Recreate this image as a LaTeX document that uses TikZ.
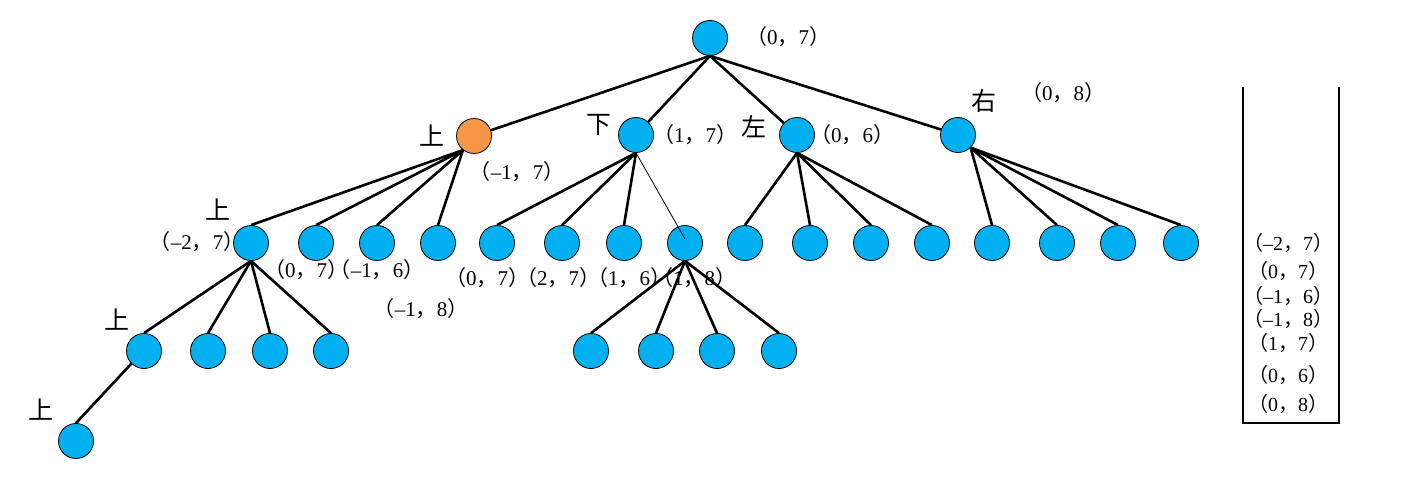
\documentclass[tikz,border=0pt]{standalone}
\usepackage{fontspec}
\setmainfont{Liberation Serif}
\newfontfamily\cjk{Noto Sans CJK SC}
\newcommand\cpair[2]{{\cjk （}#1{\cjk ，}#2{\cjk ）}}
\definecolor{nodeblue}{HTML}{00B0F0}
\definecolor{nodeorange}{HTML}{F79646}
\begin{document}
\begin{tikzpicture}[x=1pt,y=-1pt,
  st/.style={circle,draw=black,line width=0.8pt,fill=nodeblue,minimum size=35pt,inner sep=0pt},
  sto/.style={st,fill=nodeorange},
  edge/.style={line width=2.6pt},
  thinedge/.style={line width=0.8pt},
  lab/.style={font=\fontsize{21}{21}\selectfont,inner sep=0pt},
  slab/.style={font=\fontsize{20}{20}\selectfont,inner sep=0pt},
  dir/.style={font=\cjk\fontsize{25}{25}\selectfont,inner sep=0pt},
  stack/.style={line width=2.6pt}]
\useasboundingbox (0,0) rectangle (1413,502);
% level 0
\node[st] (r) at (710,38) {};
% level 1
\node[sto] (a) at (474,136) {};
\node[st] (b) at (636,135) {};
\node[st] (c) at (797,135) {};
\node[st] (d) at (958,135) {};
% level 2
\node[st] (a1) at (251,243) {};
\node[st] (a2) at (316,243) {};
\node[st] (a3) at (377,243) {};
\node[st] (a4) at (438,243) {};
\node[st] (b1) at (497,243) {};
\node[st] (b2) at (562,243) {};
\node[st] (b3) at (624,243) {};
\node[st] (b4) at (685,243) {};
\node[st] (c1) at (745,243) {};
\node[st] (c2) at (810,243) {};
\node[st] (c3) at (871,243) {};
\node[st] (c4) at (932,243) {};
\node[st] (d1) at (992,243) {};
\node[st] (d2) at (1057,243) {};
\node[st] (d3) at (1118,243) {};
\node[st] (d4) at (1181,243) {};
% level 3
\node[st] (e1) at (144,351) {};
\node[st] (e2) at (208,351) {};
\node[st] (e3) at (270,351) {};
\node[st] (e4) at (331,351) {};
\node[st] (f1) at (591,351) {};
\node[st] (f2) at (656,351) {};
\node[st] (f3) at (717,351) {};
\node[st] (f4) at (779,351) {};
% level 4
\node[st] (g1) at (76,441) {};
% edges
\foreach \t in {a,b,c,d} \draw[edge] (r.south) -- (\t);
\foreach \t in {a1,a2,a3,a4} \draw[edge] (a.-128) -- (\t.north);
\foreach \t in {b1,b2,b3} \draw[edge] (b.south) -- (\t.north);
\foreach \t in {c1,c2,c3,c4} \draw[edge] (c.south) -- (\t.north);
\foreach \t in {d1,d2,d3,d4} \draw[edge] (d.-45) -- (\t.north);
\foreach \t in {e1,e2,e3,e4} \draw[edge] (a1.south) -- (\t.north);
\foreach \t in {f1,f2,f3,f4} \draw[edge] (b4.south) -- (\t.north);
\draw[edge] (e1.-135) -- (g1.north);
\draw[thinedge] (b.south) -- ([yshift=4pt]b4.center);
% direction labels
\node[dir] (ua) at (432,136) {上};
\node[dir] (db) at (599,125) {下};
\node[dir] (lc) at (754,127) {左};
\node[dir] (rd) at (984,101) {右};
\node[dir] (ua1) at (218,210) {上};
\node[dir] (ue1) at (117,320) {上};
\node[dir] (ug1) at (41,410) {上};
% coordinate labels
\node[lab] (lr) at (788,37) {\cpair{0}{7}};
\node[lab] (la) at (517,172) {\cpair{\textendash1}{7}};
\node[lab] (lb) at (695,135) {\cpair{1}{7}};
\node[lab] (lc2) at (852,135) {\cpair{0}{6}};
\node[lab] (ld) at (1063,93) {\cpair{0}{8}};
\node[lab] (la1) at (197,242) {\cpair{\textendash2}{7}};
\node[lab] (la2) at (306,270) {\cpair{0}{7}};
\node[lab] (la3) at (377,270) {\cpair{\textendash1}{6}};
\node[lab] (la4) at (421,309) {\cpair{\textendash1}{8}};
\node[lab] (lb1) at (487,278) {\cpair{0}{7}};
\node[lab] (lb2) at (558,278) {\cpair{2}{7}};
\node[lab] (lb3) at (629,278) {\cpair{1}{6}};
\node[lab] (lb4) at (694,278) {\cpair{1}{8}};
% stack
\coordinate (s1) at (1243,87);
\coordinate (s2) at (1243,423);
\coordinate (s3) at (1339,423);
\coordinate (s4) at (1339,87);
\draw[stack,line join=miter] (s1) -- (s2) -- (s3) -- (s4);
\node[slab] (q1) at (1288,243) {\cpair{\textendash2}{7}};
\node[slab] (q2) at (1288,271) {\cpair{0}{7}};
\node[slab] (q3) at (1288,296) {\cpair{\textendash1}{6}};
\node[slab] (q4) at (1288,319) {\cpair{\textendash1}{8}};
\node[slab] (q5) at (1288,343) {\cpair{1}{7}};
\node[slab] (q6) at (1288,375) {\cpair{0}{6}};
\node[slab] (q7) at (1288,404) {\cpair{0}{8}};
\end{tikzpicture}
\end{document}
